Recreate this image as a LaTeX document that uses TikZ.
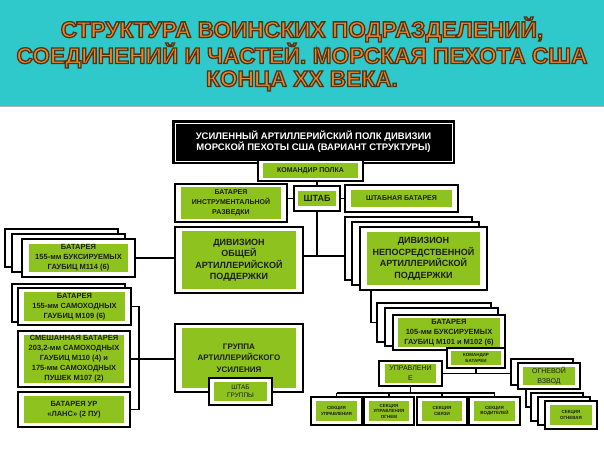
\documentclass[tikz,border=0pt]{standalone}
\usepackage{fontspec}
\setmainfont{Liberation Sans}
\usetikzlibrary{calc}
\definecolor{tealbg}{RGB}{47,201,204}
\definecolor{titleor}{RGB}{236,134,42}
\definecolor{limeg}{RGB}{141,194,31}
\definecolor{txtc}{RGB}{30,30,25}
\newcommand\mkbox[9][]{%
  \pgfmathsetmacro\mkW{#5-#3}\pgfmathsetmacro\mkH{#6-#4}%
  \pgfmathsetmacro\mkX{(#3+#5)/2}\pgfmathsetmacro\mkY{(#4+#6)/2}%
  \pgfmathsetmacro\mkGW{#5-#3-2*#7}\pgfmathsetmacro\mkGH{#6-#4-2*#8}%
  \node[obox, minimum width=\mkW pt, minimum height=\mkH pt] (#2) at (\mkX,\mkY) {};
  \node[gbox, minimum width=\mkGW pt, minimum height=\mkGH pt, #1] (#2g) at (#2.center) {#9};
}
\newcommand\mkback[5]{%
  \pgfmathsetmacro\mkW{#4-#2}\pgfmathsetmacro\mkH{#5-#3}%
  \pgfmathsetmacro\mkX{(#2+#4)/2}\pgfmathsetmacro\mkY{(#3+#5)/2}%
  \node[obox, minimum width=\mkW pt, minimum height=\mkH pt] (#1) at (\mkX,\mkY) {};
}
\newcommand\ttlstroke{\special{pdf:literal direct 2 Tr 1.3 w 0.33 0.2 0.08 RG}}
\begin{document}
\begin{tikzpicture}[x=1pt,y=-1pt,
  obox/.style={draw=black, line width=1.6pt, fill=white, inner sep=0pt, rectangle},
  gbox/.style={fill=limeg, inner sep=0pt, align=center, text=txtc,
     font=\bfseries\fontsize{7.5}{10}\selectfont},
  conn/.style={line width=1.5pt, draw=black},
  ttl/.style={font=\bfseries\fontsize{22.7}{23}\selectfont, align=center}]
\useasboundingbox (0,0) rectangle (604,453);
\fill[white] (0,0) rectangle (604,453);
\fill[tealbg] (0,0) rectangle (604,106);
\draw[gray!60, line width=0.8pt] (0,106) -- (604,106);
% title
\node[ttl, text=titleor] (title) at (302,54) {\ttlstroke СТРУКТУРА ВОИНСКИХ ПОДРАЗДЕЛЕНИЙ,\\\ttlstroke СОЕДИНЕНИЙ И ЧАСТЕЙ. МОРСКАЯ ПЕХОТА США\\\ttlstroke КОНЦА ХХ ВЕКА.};
% header
\node[fill=black, minimum width=283pt, minimum height=44pt, inner sep=0pt] (hdr) at (313.5,142) {};
\node[draw=white, line width=0.7pt, fill=black, minimum width=277pt, minimum height=38pt, inner sep=0pt,
      text=white, align=center, font=\bfseries\fontsize{9.5}{11}\selectfont] (hdri) at (313.5,142)
      {УСИЛЕННЫЙ АРТИЛЛЕРИЙСКИЙ ПОЛК ДИВИЗИИ\\МОРСКОЙ ПЕХОТЫ США (ВАРИАНТ СТРУКТУРЫ)};
% top row
\mkbox[font=\bfseries\fontsize{7}{9}\selectfont]{kp}{258}{160}{363}{181}{5}{3}{КОМАНДИР ПОЛКА}
\mkbox[font=\bfseries\fontsize{7}{10}\selectfont]{bir}{175}{184}{287}{222}{6}{3}{БАТАРЕЯ\\ИНСТРУМЕНТАЛЬНОЙ\\РАЗВЕДКИ}
\mkbox[font=\bfseries\fontsize{9}{10}\selectfont]{shtab}{294}{186}{340}{211}{4}{5}{ШТАБ}
\mkbox[font=\bfseries\fontsize{7}{9}\selectfont]{shb}{345}{185}{458}{212}{6}{5}{ШТАБНАЯ БАТАРЕЯ}
% divisions
\mkbox[font=\bfseries\fontsize{9}{11.5}\selectfont]{doap}{175}{227}{303}{293}{7}{4}{ДИВИЗИОН\\ОБЩЕЙ\\АРТИЛЛЕРИЙСКОЙ\\ПОДДЕРЖКИ}
\mkback{dnapB}{345}{217}{472}{280}
\mkback{dnapM}{352}{222}{479}{285}
\mkbox[font=\bfseries\fontsize{9}{11.5}\selectfont]{dnap}{360}{227}{487}{290}{7}{5}{ДИВИЗИОН\\НЕПОСРЕДСТВЕННОЙ\\АРТИЛЛЕРИЙСКОЙ\\ПОДДЕРЖКИ}
% left batteries
\mkback{m114B}{5}{229}{118}{267}
\mkback{m114M}{12}{234}{125}{272}
\mkbox{m114}{22}{239}{135}{277}{7}{5}{БАТАРЕЯ\\155-мм БУКСИРУЕМЫХ\\ГАУБИЦ М114 (6)}
\mkback{m109B}{12}{284}{125}{322}
\mkbox{m109}{18}{288}{131}{325}{6}{4}{БАТАРЕЯ\\155-мм САМОХОДНЫХ\\ГАУБИЦ М109 (6)}
\mkbox{smesh}{18}{331}{130}{387}{6}{4}{СМЕШАННАЯ БАТАРЕЯ\\203,2-мм САМОХОДНЫХ\\ГАУБИЦ М110 (4) и\\175-мм САМОХОДНЫХ\\ПУШЕК М107 (2)}
\mkbox{lans}{18}{392}{130}{427}{6}{4}{БАТАРЕЯ УР\\«ЛАНС» (2 ПУ)}
% group
\mkbox[font=\bfseries\fontsize{8}{11.5}\selectfont]{grp}{175}{324}{303}{392}{7}{4}{ГРУППА\\АРТИЛЛЕРИЙСКОГО\\УСИЛЕНИЯ}
\mkbox[font=\fontsize{6.5}{8}\selectfont]{shgr}{209}{378}{272}{405}{5}{4}{ШТАБ\\ГРУППЫ}
% battery 105
\mkback{b105B}{377}{303}{491}{342}
\mkback{b105M}{385}{308}{498}{346}
\mkbox{b105}{393}{315}{505}{350}{5}{3}{БАТАРЕЯ\\105-мм БУКСИРУЕМЫХ\\ГАУБИЦ М101 и М102 (6)}
\mkbox[font=\bfseries\fontsize{4.5}{5.5}\selectfont]{kb}{447}{348}{505}{368}{4}{3}{КОМАНДИР\\БАТАРЕИ}
\mkbox[font=\fontsize{7}{10}\selectfont]{upr}{379}{361}{442}{386}{6}{3}{УПРАВЛЕНИ\\Е}
% sections
\mkbox[font=\bfseries\fontsize{4.5}{5.5}\selectfont]{s1}{311}{397}{362}{425}{5}{4}{СЕКЦИЯ\\УПРАВЛЕНИЯ}
\mkbox[font=\bfseries\fontsize{4.5}{5.5}\selectfont]{s2}{364}{397}{414}{425}{5}{4}{СЕКЦИЯ\\УПРАВЛЕНИЯ\\ОГНЕМ}
\mkbox[font=\bfseries\fontsize{4.5}{5.5}\selectfont]{s3}{417}{397}{467}{425}{5}{4}{СЕКЦИЯ\\СВЯЗИ}
\mkbox[font=\bfseries\fontsize{4.5}{5.5}\selectfont]{s4}{469}{397}{520}{425}{5}{4}{СЕКЦИЯ\\ВОДИТЕЛЕЙ}
% fire platoon
\mkback{ovB}{511}{359}{573}{385}
\mkbox[font=\fontsize{7}{10}\selectfont]{ov}{518}{363}{580}{389}{5}{4}{ОГНЕВОЙ\\ВЗВОД}
\mkback{soB}{531}{393}{583}{421}
\mkback{soM}{538}{397}{590}{425}
\mkbox[font=\bfseries\fontsize{4.5}{5.5}\selectfont]{so}{545}{401}{597}{429}{5}{4}{СЕКЦИЯ\\ОГНЕВАЯ}
% connectors
\coordinate (j1) at (317,256);
\draw[conn] (shtab.north |- kp.south) -- (shtab.north);
\draw[conn] (shtab.west) -- (bir.east |- shtab.west);
\draw[conn] (shtab.east) -- (shb.west |- shtab.east);
\draw[conn] (shtab.south) -- (j1);
\draw[conn] (doap.east |- j1) -- (dnapB.west |- j1);
\draw[conn] (m114.east) -- (doap.west |- m114.east);
\draw[conn] (m109.east) -- ++(7,0) coordinate (lv) |- (lans.east);
\draw[conn] (smesh.east) -- (grp.west |- smesh.east);
\draw[conn] ($(dnap.south west)+(12,0)$) |- (b105B.west);
\draw[conn] (upr.east) -- (ovB.west |- upr.east);
\draw[conn] (kb.south) -- (kb.south |- upr.east);
\draw[conn] (upr.south) -- ++(0,6) coordinate (bus);
\draw[conn] (s1.north |- bus) -- (s4.north |- bus);
\foreach \s in {s1,s2,s3,s4} \draw[conn] (\s.north) -- (\s.north |- bus);
\draw[conn] ($(ov.south west)+(9,0)$) |- (soB.west);
\end{tikzpicture}
\end{document}
